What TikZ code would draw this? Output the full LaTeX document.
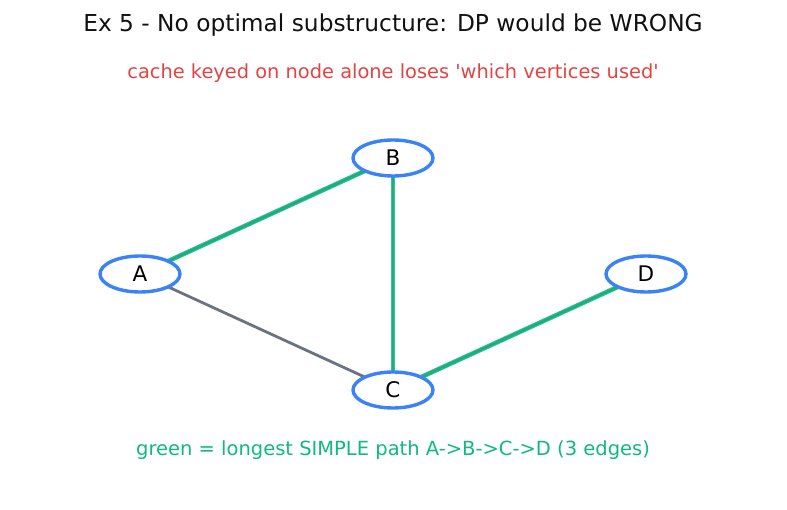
\documentclass[tikz,border=0pt]{standalone}
\usepackage{fontspec}
\setmainfont{DejaVu Sans}
\usetikzlibrary{shapes.geometric}

\definecolor{nodeblue}{RGB}{59,130,246}
\definecolor{pathgreen}{RGB}{16,185,129}
\definecolor{edgegrey}{RGB}{107,114,128}
\definecolor{notered}{RGB}{226,68,68}
\definecolor{titleink}{RGB}{17,17,17}

\tikzset{
  vertex/.style={ellipse,draw=nodeblue,line width=3.4pt,fill=white,
    minimum width=80pt,minimum height=36pt,inner sep=0pt,font=\fontsize{21.5}{24}\selectfont},
  plainedge/.style={draw=edgegrey,line width=2.8pt},
  longedge/.style={draw=pathgreen,line width=4.6pt,draw opacity=0.85}
}

\begin{document}
\begin{tikzpicture}[x=1pt,y=-1pt]
  \useasboundingbox (0,0) rectangle (787,510);
  \node[text=titleink,font=\fontsize{23.3}{26}\selectfont] (title) at (393,25) {Ex 5 - No optimal substructure: DP would be WRONG};
  \node[text=notered,font=\fontsize{19.4}{22}\selectfont] (note) at (393,73) {cache keyed on node alone loses \textquotesingle which vertices used\textquotesingle};

  \coordinate (pa) at (140,274);
  \coordinate (pb) at (393,158);
  \coordinate (pc) at (393,390);
  \coordinate (pd) at (646,274);

  % all edges, then the long simple path on top
  \draw[plainedge] (pa) -- (pb);
  \draw[plainedge] (pa) -- (pc);
  \draw[plainedge] (pb) -- (pc);
  \draw[plainedge] (pc) -- (pd);
  \draw[longedge] (pa) -- (pb);
  \draw[longedge] (pb) -- (pc);
  \draw[longedge] (pc) -- (pd);

  \node[vertex] (A) at (pa) {A};
  \node[vertex] (B) at (pb) {B};
  \node[vertex] (C) at (pc) {C};
  \node[vertex] (D) at (pd) {D};

  \node[text=pathgreen,font=\fontsize{19.5}{22}\selectfont] (legend) at (393,450) {green = longest SIMPLE path A->B->C->D (3 edges)};
\end{tikzpicture}
\end{document}
